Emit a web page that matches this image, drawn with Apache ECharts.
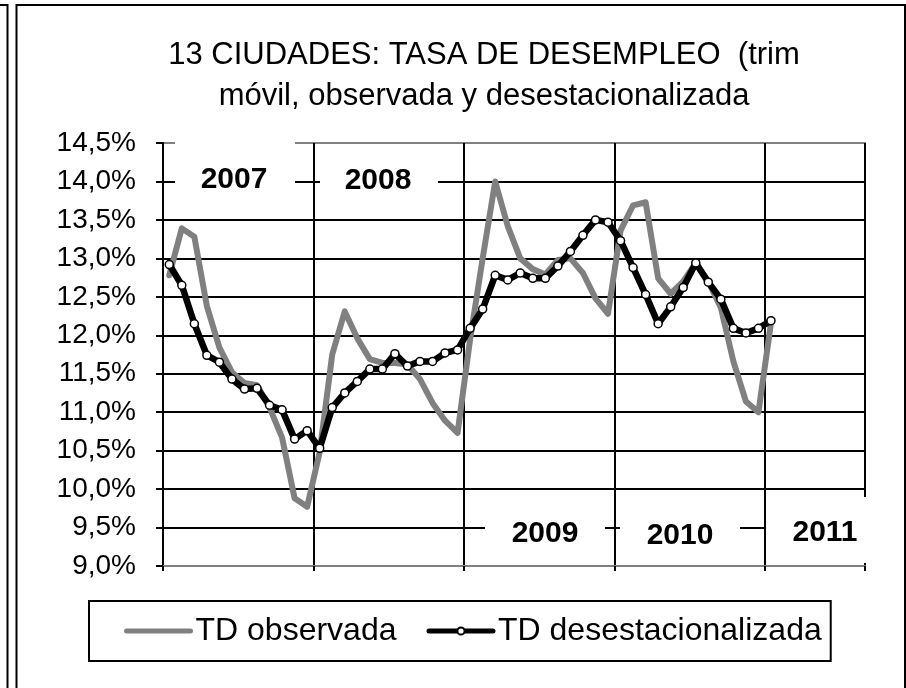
<!DOCTYPE html>
<html><head><meta charset="utf-8">
<script src="https://cdn.jsdelivr.net/npm/echarts@6/dist/echarts.min.js"></script>
<style>html,body{margin:0;padding:0;background:#fff}#c{width:906px;height:688px}</style>
</head><body><div id="c"></div>
<script>
const monthNames = ['ene','feb','mar','abr','may','jun','jul','ago','sep','oct','nov','dic'];
const yearSuffixes = ['07','08','09','10','11'];
const categories = [];
for (const y of yearSuffixes) for (const m of monthNames) if (categories.length < 56) categories.push(m + '-' + y);

const tdObservada = [12.78,13.39,13.28,12.38,11.84,11.52,11.38,11.35,11.06,10.67,
  9.88,9.77,10.48,11.75,12.31,11.96,11.69,11.64,11.64,11.62,
  11.43,11.12,10.89,10.73,11.95,13.0,14.0,13.42,13.0,12.86,
  12.79,12.98,13.0,12.81,12.48,12.28,13.36,13.69,13.73,12.74,
  12.54,12.70,12.94,12.70,12.36,11.66,11.14,11.0,12.16];
const tdDesest = [12.92,12.65,12.15,11.74,11.65,11.43,11.30,11.31,11.09,11.03,
  10.65,10.76,10.53,11.06,11.25,11.40,11.56,11.56,11.76,11.60,
  11.66,11.66,11.77,11.81,12.09,12.34,12.78,12.72,12.81,12.74,
  12.74,12.90,13.09,13.30,13.50,13.47,13.23,12.88,12.53,12.15,
  12.37,12.62,12.94,12.69,12.47,12.09,12.03,12.09,12.19];
const yearLabels = ['2007','2008','2009','2010','2011'];
const seriesNames = ['TD observada','TD desestacionalizada'];

const FONT = '"Liberation Sans", Arial, sans-serif';
const splitColors = ['#808080','#000','#000','#000','#000','#000','#000','#000','#000','#000','#000','#808080'];

function yearBox(label, x, y, w, h, cx, cy) {
  return [
    {type:'rect', shape:{x:x, y:y, width:w, height:h}, style:{fill:'#fff', stroke:null}, z:1},
    {type:'text', x:cx, y:cy, style:{text:label, font:'bold 30px ' + FONT, fill:'#000', align:'center', verticalAlign:'middle'}, z:10}
  ];
}

const chart = echarts.init(document.getElementById('c'), null, {renderer:'canvas'});
chart.setOption({
  animation:false,
  backgroundColor:'#fff',
  title:{
    text:'13 CIUDADES: TASA DE DESEMPLEO  (trim\nmóvil, observada y desestacionalizada',
    left:484, top:35, padding:0, textAlign:'center',
    textStyle:{fontFamily:FONT, fontSize:31, fontWeight:'normal', color:'#000', lineHeight:41}
  },
  grid:{left:163, right:41, top:143, bottom:122, show:true, borderColor:'#808080', borderWidth:2, containLabel:false},
  legend:{
    data:[
      {name:seriesNames[0], itemStyle:{opacity:0, borderWidth:0}},
      {name:seriesNames[1]}
    ],
    left:89, top:601,
    padding:[14, 9, 14, 35],
    itemGap:30, itemWidth:64, itemHeight:9,
    lineStyle:{width:5},
    borderColor:'#000', borderWidth:2,
    textStyle:{fontFamily:FONT, fontSize:32, color:'#000'}
  },
  xAxis:{
    type:'category', data:categories, boundaryGap:true,
    axisLine:{show:true, lineStyle:{color:'#808080', width:2}},
    axisTick:{show:true, interval:(i)=> i % 12 === 0, length:5, lineStyle:{color:'#000', width:2}},
    axisLabel:{show:false},
    splitLine:{show:true, interval:(i)=> i % 12 === 0, lineStyle:{color:'#000', width:2}}
  },
  yAxis:{
    type:'value', min:9, max:14.5, interval:0.5,
    axisLine:{show:true, lineStyle:{color:'#000', width:2}},
    axisTick:{show:true, inside:false, length:7, lineStyle:{color:'#000', width:2}},
    axisLabel:{color:'#000', fontFamily:FONT, fontSize:28, margin:27,
      formatter:(v)=> v.toFixed(1).replace('.', ',') + '%'},
    splitLine:{show:true, lineStyle:{color:splitColors, width:2}}
  },
  series:[
    {name:seriesNames[0], type:'line', data:tdObservada, symbol:'none', showSymbol:false,
     lineStyle:{color:'#808080', width:6, cap:'round', join:'round'}, itemStyle:{color:'#808080'}, z:2},
    {name:seriesNames[1], type:'line', data:tdDesest, symbol:'circle', symbolSize:8, showSymbol:true,
     lineStyle:{color:'#000', width:6.5, cap:'round', join:'round'},
     itemStyle:{color:'#fff', borderColor:'#000', borderWidth:1.5}, z:3}
  ],
  graphic:[
    {type:'polyline', shape:{points:[[0,5],[7.5,5],[7.5,700]]}, style:{stroke:'#000', lineWidth:2, fill:null}, z:100},
    {type:'rect', shape:{x:16.5, y:5, width:888.5, height:700}, style:{stroke:'#000', fill:null, lineWidth:2}, z:100},
    ...yearBox(yearLabels[0], 175, 137, 120, 73, 234, 180),
    ...yearBox(yearLabels[1], 320, 152, 118, 58, 378, 181),
    ...yearBox(yearLabels[2], 485, 503, 120, 60, 545, 534),
    ...yearBox(yearLabels[3], 620, 503, 120, 60, 680, 536),
    ...yearBox(yearLabels[4], 766, 497, 102, 66, 825, 533)
  ]
});
</script></body></html>
